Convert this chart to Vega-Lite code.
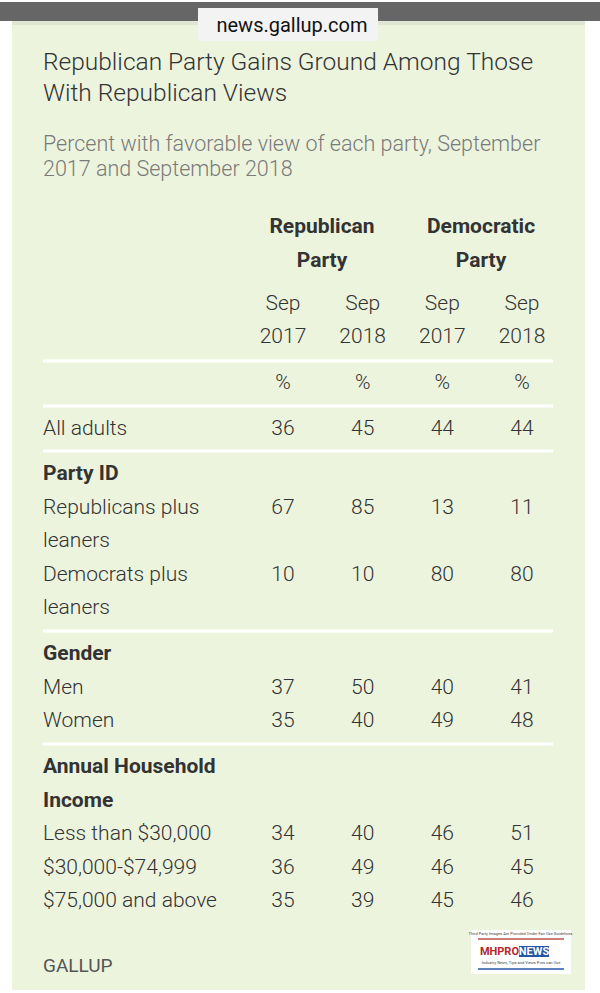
{
  "$schema": "https://vega.github.io/schema/vega-lite/v6.json",
  "width": 600,
  "height": 993,
  "autosize": "none",
  "padding": 0,
  "background": "#ffffff",
  "config": {"view": {"stroke": null}, "text": {"font": "Roboto"}},
  "datasets": {
    "bg": [
      {"part": "page", "x": 0, "x2": 600, "y": 0, "y2": 993, "fill": "#ffffff"},
      {"part": "panel", "x": 12, "x2": 585, "y": 20, "y2": 990, "fill": "#ecf4de"},
      {"part": "shadow", "x": 12, "x2": 585, "y": 21, "y2": 25, "fill": "#dfe6d3"},
      {"part": "bar", "x": 0, "x2": 600, "y": 2, "y2": 21, "fill": "#666666"},
      {"part": "urlbox", "x": 198, "x2": 378, "y": 8, "y2": 41, "fill": "#f3f3f3"},
      {"part": "logo", "x": 471, "x2": 571, "y": 930, "y2": 974, "fill": "#ffffff"},
      {"part": "logo-news", "x": 519, "x2": 549, "y": 946, "y2": 957, "fill": "#2456a6"}
    ],
    "logolines": [
      {"y": 939, "c": "#c0504d"},
      {"y": 969, "c": "#2456a6"}
    ],
    "heading": [
      {"role": "url", "text": "news.gallup.com", "y": 26},
      {"role": "title", "text": "Republican Party Gains Ground Among Those", "y": 63},
      {"role": "title", "text": "With Republican Views", "y": 94},
      {"role": "subtitle", "text": "Percent with favorable view of each party, September", "y": 145},
      {"role": "subtitle", "text": "2017 and September 2018", "y": 170},
      {"role": "footer", "text": "GALLUP", "y": 966}
    ],
    "logotext": [
      {"part": "fine", "text": "Third Party Images Are Provided Under Fair Use Guidelines.", "y": 934},
      {"part": "mhpro", "text": "MHPRO", "y": 952},
      {"part": "news", "text": "NEWS", "y": 952},
      {"part": "tag", "text": "Industry News, Tips and Views Pros can Use", "y": 963}
    ],
    "parties": [
      {"party": "Republican", "line1": "Republican", "line2": "Party"},
      {"party": "Democratic", "line1": "Democratic", "line2": "Party"}
    ],
    "rows": [
      {"label": "", "kind": "colhead", "y": 304, "rep17": "Sep", "rep18": "Sep", "dem17": "Sep", "dem18": "Sep"},
      {"label": "", "kind": "colhead", "y": 337, "rep17": "2017", "rep18": "2018", "dem17": "2017", "dem18": "2018"},
      {"label": "", "kind": "colhead", "y": 383, "rep17": "%", "rep18": "%", "dem17": "%", "dem18": "%"},
      {"label": "All adults", "kind": "data", "y": 429, "rep17": "36", "rep18": "45", "dem17": "44", "dem18": "44"},
      {"label": "Party ID", "kind": "group", "y": 474},
      {"label": "Republicans plus", "kind": "data", "y": 508, "rep17": "67", "rep18": "85", "dem17": "13", "dem18": "11"},
      {"label": "leaners", "kind": "data", "y": 541},
      {"label": "Democrats plus", "kind": "data", "y": 575, "rep17": "10", "rep18": "10", "dem17": "80", "dem18": "80"},
      {"label": "leaners", "kind": "data", "y": 608},
      {"label": "Gender", "kind": "group", "y": 654},
      {"label": "Men", "kind": "data", "y": 688, "rep17": "37", "rep18": "50", "dem17": "40", "dem18": "41"},
      {"label": "Women", "kind": "data", "y": 721, "rep17": "35", "rep18": "40", "dem17": "49", "dem18": "48"},
      {"label": "Annual Household", "kind": "group", "y": 767},
      {"label": "Income", "kind": "group", "y": 801},
      {"label": "Less than $30,000", "kind": "data", "y": 834, "rep17": "34", "rep18": "40", "dem17": "46", "dem18": "51"},
      {"label": "$30,000-$74,999", "kind": "data", "y": 868, "rep17": "36", "rep18": "49", "dem17": "46", "dem18": "45"},
      {"label": "$75,000 and above", "kind": "data", "y": 901, "rep17": "35", "rep18": "39", "dem17": "45", "dem18": "46"}
    ],
    "seps": [{"y": 361}, {"y": 406}, {"y": 451}, {"y": 631}, {"y": 744}]
  },
  "resolve": {"scale": {"x": "independent", "y": "independent"}},
  "layer": [
    {
      "data": {"name": "bg"},
      "mark": {"type": "rect"},
      "encoding": {
        "x": {"field": "x", "type": "quantitative", "scale": {"domain": [0, 600], "nice": false, "zero": false}, "axis": null},
        "x2": {"field": "x2"},
        "y": {"field": "y", "type": "quantitative", "scale": {"domain": [0, 993], "reverse": true, "nice": false, "zero": false}, "axis": null},
        "y2": {"field": "y2"},
        "color": {"field": "fill", "type": "nominal", "scale": null, "legend": null}
      }
    },
    {
      "data": {"name": "logolines"},
      "mark": {"type": "rule", "strokeWidth": 1.5},
      "encoding": {
        "x": {"datum": 478, "type": "quantitative", "scale": {"domain": [0, 600], "nice": false, "zero": false}, "axis": null},
        "x2": {"datum": 564},
        "y": {"field": "y", "type": "quantitative", "scale": {"domain": [0, 993], "reverse": true, "nice": false, "zero": false}, "axis": null},
        "color": {"field": "c", "type": "nominal", "scale": null, "legend": null}
      }
    },
    {
      "data": {"name": "logotext"},
      "transform": [{"filter": "datum.part === 'fine' || datum.part === 'tag'"}],
      "mark": {"type": "text", "fontSize": 4, "color": "#444444", "align": "center", "baseline": "middle"},
      "encoding": {
        "x": {"datum": 521, "type": "quantitative", "scale": {"domain": [0, 600], "nice": false, "zero": false}, "axis": null},
        "y": {"field": "y", "type": "quantitative", "scale": {"domain": [0, 993], "reverse": true, "nice": false, "zero": false}, "axis": null},
        "text": {"field": "text"}
      }
    },
    {
      "data": {"name": "logotext"},
      "transform": [{"filter": "datum.part === 'mhpro'"}],
      "mark": {"type": "text", "fontSize": 11, "fontWeight": "bold", "color": "#b3262b", "align": "right", "baseline": "middle"},
      "encoding": {
        "x": {"datum": 519, "type": "quantitative", "scale": {"domain": [0, 600], "nice": false, "zero": false}, "axis": null},
        "y": {"field": "y", "type": "quantitative", "scale": {"domain": [0, 993], "reverse": true, "nice": false, "zero": false}, "axis": null},
        "text": {"field": "text"}
      }
    },
    {
      "data": {"name": "logotext"},
      "transform": [{"filter": "datum.part === 'news'"}],
      "mark": {"type": "text", "fontSize": 11, "fontWeight": "bold", "color": "#ffffff", "align": "center", "baseline": "middle"},
      "encoding": {
        "x": {"datum": 534, "type": "quantitative", "scale": {"domain": [0, 600], "nice": false, "zero": false}, "axis": null},
        "y": {"field": "y", "type": "quantitative", "scale": {"domain": [0, 993], "reverse": true, "nice": false, "zero": false}, "axis": null},
        "text": {"field": "text"}
      }
    },
    {
      "data": {"name": "seps"},
      "mark": {"type": "rule", "color": "#ffffff", "strokeWidth": 3},
      "encoding": {
        "x": {"datum": 43, "type": "quantitative", "scale": {"domain": [0, 600], "nice": false, "zero": false}, "axis": null},
        "x2": {"datum": 553},
        "y": {"field": "y", "type": "quantitative", "scale": {"domain": [0, 993], "reverse": true, "nice": false, "zero": false}, "axis": null}
      }
    },
    {
      "data": {"name": "heading"},
      "transform": [{"filter": "datum.role === 'url'"}],
      "mark": {"type": "text", "fontSize": 20, "fontWeight": 400, "color": "#111111", "align": "center", "baseline": "middle"},
      "encoding": {
        "x": {"datum": 292, "type": "quantitative", "scale": {"domain": [0, 600], "nice": false, "zero": false}, "axis": null},
        "y": {"field": "y", "type": "quantitative", "scale": {"domain": [0, 993], "reverse": true, "nice": false, "zero": false}, "axis": null},
        "text": {"field": "text"}
      }
    },
    {
      "data": {"name": "heading"},
      "transform": [{"filter": "datum.role === 'title'"}],
      "mark": {"type": "text", "fontSize": 24.5, "fontWeight": 300, "color": "#333333", "align": "left", "baseline": "middle"},
      "encoding": {
        "x": {"datum": 43, "type": "quantitative", "scale": {"domain": [0, 600], "nice": false, "zero": false}, "axis": null},
        "y": {"field": "y", "type": "quantitative", "scale": {"domain": [0, 993], "reverse": true, "nice": false, "zero": false}, "axis": null},
        "text": {"field": "text"}
      }
    },
    {
      "data": {"name": "heading"},
      "transform": [{"filter": "datum.role === 'subtitle'"}],
      "mark": {"type": "text", "fontSize": 21.5, "fontWeight": 300, "color": "#7a7a7a", "align": "left", "baseline": "middle"},
      "encoding": {
        "x": {"datum": 43, "type": "quantitative", "scale": {"domain": [0, 600], "nice": false, "zero": false}, "axis": null},
        "y": {"field": "y", "type": "quantitative", "scale": {"domain": [0, 993], "reverse": true, "nice": false, "zero": false}, "axis": null},
        "text": {"field": "text"}
      }
    },
    {
      "data": {"name": "heading"},
      "transform": [{"filter": "datum.role === 'footer'"}],
      "mark": {"type": "text", "fontSize": 19, "fontWeight": 400, "color": "#555555", "align": "left", "baseline": "middle"},
      "encoding": {
        "x": {"datum": 43, "type": "quantitative", "scale": {"domain": [0, 600], "nice": false, "zero": false}, "axis": null},
        "y": {"field": "y", "type": "quantitative", "scale": {"domain": [0, 993], "reverse": true, "nice": false, "zero": false}, "axis": null},
        "text": {"field": "text"}
      }
    },
    {
      "data": {"name": "parties"},
      "transform": [{"fold": ["line1", "line2"], "as": ["line", "text"]}],
      "mark": {"type": "text", "fontSize": 21, "fontWeight": "bold", "color": "#333333", "align": "center", "baseline": "middle"},
      "encoding": {
        "x": {"field": "party", "type": "nominal", "scale": {"type": "point", "domain": ["Republican", "Democratic"], "range": [322, 481], "padding": 0}, "axis": null},
        "y": {"field": "line", "type": "nominal", "scale": {"type": "point", "domain": ["line1", "line2"], "range": [227, 261], "padding": 0}, "axis": null},
        "text": {"field": "text"}
      }
    },
    {
      "data": {"name": "rows"},
      "transform": [{"filter": "datum.kind === 'data'"}],
      "mark": {"type": "text", "fontSize": 21, "fontWeight": 300, "color": "#333333", "align": "left", "baseline": "middle"},
      "encoding": {
        "x": {"datum": 43, "type": "quantitative", "scale": {"domain": [0, 600], "nice": false, "zero": false}, "axis": null},
        "y": {"field": "y", "type": "quantitative", "scale": {"domain": [0, 993], "reverse": true, "nice": false, "zero": false}, "axis": null},
        "text": {"field": "label"}
      }
    },
    {
      "data": {"name": "rows"},
      "transform": [{"filter": "datum.kind === 'group'"}],
      "mark": {"type": "text", "fontSize": 21, "fontWeight": "bold", "color": "#333333", "align": "left", "baseline": "middle"},
      "encoding": {
        "x": {"datum": 43, "type": "quantitative", "scale": {"domain": [0, 600], "nice": false, "zero": false}, "axis": null},
        "y": {"field": "y", "type": "quantitative", "scale": {"domain": [0, 993], "reverse": true, "nice": false, "zero": false}, "axis": null},
        "text": {"field": "label"}
      }
    },
    {
      "data": {"name": "rows"},
      "transform": [
        {"fold": ["rep17", "rep18", "dem17", "dem18"], "as": ["col", "value"]},
        {"filter": "isValid(datum.value)"}
      ],
      "mark": {"type": "text", "fontSize": 21, "fontWeight": 300, "color": "#333333", "align": "center", "baseline": "middle"},
      "encoding": {
        "x": {"field": "col", "type": "nominal", "scale": {"type": "point", "domain": ["rep17", "rep18", "dem17", "dem18"], "range": [283, 522], "padding": 0}, "axis": null},
        "y": {"field": "y", "type": "quantitative", "scale": {"domain": [0, 993], "reverse": true, "nice": false, "zero": false}, "axis": null},
        "text": {"field": "value"}
      }
    }
  ]
}
